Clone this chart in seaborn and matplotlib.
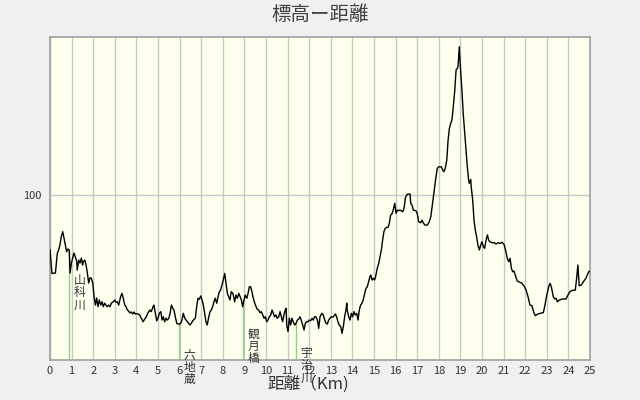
import numpy as np
import pandas as pd
import matplotlib
matplotlib.use("Agg")
import matplotlib.pyplot as plt
import seaborn as sns

# 距離 (km) と 標高 (m)
distance_km = [
    0.00, 0.09, 0.25, 0.34, 0.40, 0.46, 0.52, 0.59, 0.65, 0.71, 0.77, 0.83, 0.89, 0.93, 0.99,
    1.05, 1.11, 1.17, 1.24, 1.26, 1.33, 1.39, 1.45, 1.51, 1.54, 1.61, 1.67, 1.73, 1.79, 1.85,
    1.91, 1.98, 2.04, 2.10, 2.16, 2.22, 2.28, 2.35, 2.41, 2.47, 2.53, 2.59, 2.65, 2.72, 2.78,
    2.84, 2.93, 3.00, 3.06, 3.12, 3.18, 3.27, 3.33, 3.39, 3.46, 3.52, 3.58, 3.64, 3.70, 3.76,
    3.83, 3.89, 3.95, 4.01, 4.07, 4.15, 4.23, 4.31, 4.38, 4.46, 4.54, 4.62, 4.69, 4.77, 4.81,
    4.88, 4.94, 5.00, 5.06, 5.13, 5.19, 5.25, 5.31, 5.37, 5.43, 5.50, 5.56, 5.62, 5.68, 5.74,
    5.80, 5.87, 5.93, 5.99, 6.05, 6.11, 6.17, 6.24, 6.30, 6.36, 6.42, 6.48, 6.54, 6.61, 6.67,
    6.73, 6.79, 6.85, 6.91, 6.98, 7.04, 7.10, 7.16, 7.22, 7.28, 7.35, 7.41, 7.47, 7.53, 7.59,
    7.65, 7.72, 7.78, 7.84, 7.90, 7.96, 8.02, 8.09, 8.15, 8.21, 8.27, 8.33, 8.39, 8.47, 8.55,
    8.61, 8.67, 8.74, 8.80, 8.86, 8.92, 8.98, 9.04, 9.11, 9.17, 9.23, 9.29, 9.35, 9.41, 9.48,
    9.54, 9.60, 9.66, 9.72, 9.78, 9.85, 9.91, 9.97, 10.03, 10.09, 10.15, 10.22, 10.28, 10.34,
    10.40, 10.46, 10.52, 10.59, 10.65, 10.71, 10.77, 10.83, 10.89, 10.93, 10.96, 11.02, 11.08,
    11.14, 11.20, 11.26, 11.33, 11.39, 11.45, 11.51, 11.57, 11.63, 11.70, 11.76, 11.82, 11.88,
    11.94, 12.00, 12.07, 12.13, 12.19, 12.25, 12.31, 12.38, 12.44, 12.50, 12.59, 12.65, 12.72,
    12.78, 12.84, 12.90, 12.96, 13.02, 13.09, 13.15, 13.21, 13.27, 13.33, 13.39, 13.46, 13.52,
    13.58, 13.64, 13.70, 13.74, 13.76, 13.83, 13.89, 13.95, 14.01, 14.07, 14.13, 14.20, 14.26,
    14.32, 14.38, 14.44, 14.50, 14.57, 14.63, 14.69, 14.75, 14.81, 14.85, 14.91, 14.97, 15.03,
    15.09, 15.15, 15.22, 15.28, 15.34, 15.40, 15.46, 15.52, 15.59, 15.65, 15.71, 15.77, 15.83,
    15.89, 15.96, 16.02, 16.08, 16.14, 16.20, 16.26, 16.33, 16.39, 16.45, 16.51, 16.57, 16.67,
    16.70, 16.76, 16.82, 16.94, 17.00, 17.07, 17.16, 17.22, 17.28, 17.35, 17.47, 17.56, 17.63,
    17.69, 17.75, 17.81, 17.87, 17.93, 18.00, 18.12, 18.18, 18.24, 18.30, 18.37, 18.43, 18.49,
    18.55, 18.61, 18.67, 18.74, 18.80, 18.86, 18.89, 18.92, 18.95, 18.98, 19.01, 19.07, 19.13,
    19.20, 19.26, 19.32, 19.38, 19.41, 19.48, 19.50, 19.57, 19.63, 19.69, 19.75, 19.81, 19.88,
    19.94, 20.00, 20.06, 20.12, 20.19, 20.25, 20.31, 20.37, 20.46, 20.56, 20.65, 20.74, 20.83,
    20.93, 21.02, 21.11, 21.17, 21.24, 21.30, 21.36, 21.42, 21.48, 21.54, 21.63, 21.76, 21.85,
    21.94, 22.04, 22.13, 22.22, 22.31, 22.41, 22.47, 22.55, 22.69, 22.84, 22.90, 23.00, 23.09,
    23.15, 23.21, 23.30, 23.37, 23.43, 23.49, 23.58, 23.74, 23.89, 23.98, 24.07, 24.17, 24.32,
    24.38, 24.44, 24.50, 24.60, 24.69, 24.81, 24.94, 25.00,
]
elevation_m = [
    67, 52.5, 52.7, 64.8, 66.7, 69.7, 74.7, 77.8, 73.9, 69.7, 65.6, 67.3, 66.7, 52.7, 58.8,
    61.8, 64.8, 62.6, 59.6, 54.5, 60.6, 58.8, 61.8, 57.6, 59.6, 60.6, 57.6, 52.7, 46.7, 49.7,
    49.7, 46.7, 38.4, 33.3, 37.6, 32.3, 36.4, 33.3, 35.3, 32.3, 34.5, 33.3, 32.3, 33.3, 32.3,
    34.5, 35.3, 36.4, 35.0, 35.3, 33.3, 38.4, 40.4, 37.6, 33.3, 32.3, 30.3, 29.7, 28.5, 29.1,
    27.9, 29.1, 27.9, 28.1, 27.9, 27.3, 25.3, 23.2, 24.7, 26.2, 28.7, 30.3, 29.3, 32.3, 33.3,
    28.3, 23.8, 25.3, 28.3, 29.3, 24.2, 26.2, 23.2, 25.3, 24.2, 25.3, 28.3, 33.3, 31.3, 30.3,
    26.2, 22.2, 21.8, 21.8, 22.2, 24.2, 28.3, 25.3, 24.2, 23.2, 22.2, 21.2, 22.2, 23.8, 24.7,
    25.3, 32.3, 37.4, 36.8, 38.8, 36.4, 33.3, 28.3, 23.2, 21.2, 26.2, 29.3, 30.3, 32.3, 35.3,
    37.4, 34.4, 38.4, 41.4, 42.4, 45.5, 48.5, 52.5, 46.5, 40.4, 38.4, 36.4, 41.4, 40.4, 35.3,
    39.4, 37.4, 40.4, 38.4, 36.4, 32.3, 36.4, 39.4, 37.4, 40.4, 44.4, 44.4, 41.4, 37.4, 34.4,
    32.3, 30.7, 30.3, 28.7, 29.3, 27.3, 25.3, 26.2, 23.2, 24.2, 26.2, 27.3, 30.3, 28.3,
    26.2, 27.3, 25.3, 26.2, 29.3, 26.2, 23.2, 27.3, 30.3, 31.3, 21.2, 17.2, 25.3,
    21.2, 25.3, 23.2, 21.2, 22.2, 24.2, 24.7, 26.2, 24.2, 21.2, 18.2, 22.2, 23.2,
    23.2, 24.2, 23.8, 25.3, 24.2, 26.2, 26.2, 24.2, 19.2, 26.2, 28.3, 27.3, 24.2,
    22.2, 21.8, 24.2, 25.3, 26.2, 25.9, 26.7, 27.9, 26.2, 23.2, 21.2, 20.2, 16.2,
    20.2, 26.2, 30.3, 34.4, 30.3, 26.2, 24.2, 28.3, 26.2, 29.3, 27.3, 28.3, 24.2,
    30.3, 33.3, 34.4, 36.4, 40.4, 43.4, 44.4, 47.4, 50.5, 51.5, 48.5, 49.5, 48.5,
    51.5, 55.6, 58.6, 62.6, 66.7, 72.7, 77.8, 79.8, 80.4, 80.4, 82.8, 87.9, 88.5,
    90.9, 95.0, 88.9, 90.9, 90.5, 90.9, 90.5, 89.9, 91.9, 98.0, 100.0, 100.6, 100.6,
    95.0, 93.9, 90.9, 90.5, 88.9, 83.8, 83.2, 84.8, 83.2, 81.8, 81.8, 83.8, 86.8,
    92.9, 99.0, 105.0, 111.1, 116.2, 117.1, 117.1, 115.2, 114.1, 116.2, 121.2, 133.3, 140.4,
    143.4, 145.5, 153.5, 163.6, 175.8, 176.8, 177.8, 183.9, 189.9, 181.8, 175.8, 163.6, 149.5,
    137.4, 127.3, 117.1, 109.1, 107.1, 109.5, 105.0, 97.0, 84.8, 78.8, 74.7, 69.7, 66.7,
    69.7, 71.7, 68.7, 67.7, 72.7, 75.8, 72.7, 71.7, 71.1, 71.1, 70.3, 71.1, 70.7,
    71.3, 70.1, 65.6, 61.6, 59.6, 61.6, 55.6, 53.5, 53.9, 51.5, 47.9, 47.1, 46.5,
    45.0, 42.4, 38.4, 33.3, 32.9, 28.3, 26.8, 27.7, 28.3, 28.7, 32.3, 39.4, 44.4,
    46.5, 44.4, 38.4, 37.0, 37.4, 35.3, 36.4, 37.0, 37.0, 39.4, 41.4, 42.2, 42.4,
    49.5, 57.6, 45.0, 45.5, 47.4, 49.5, 53.5, 53.9,
]

# 地点
landmark_names = ["山科川", "六地蔵", "観月橋", "宇治川"]
landmark_km = [0.89, 5.99, 8.95, 11.40]

x_ticks = list(range(0, 26))
y_ticks = [100]

sns.set_theme(style="white", rc={
    "figure.facecolor": "#f0f0f0",
    "axes.facecolor": "#ffffee",
    "axes.edgecolor": "#a0a0a0",
})
plt.rcParams["font.family"] = ["Noto Sans CJK JP", "DejaVu Sans"]

df = pd.DataFrame({"距離": distance_km, "標高": elevation_m})

fig = plt.figure(figsize=(6.4, 4.0), dpi=100)
ax = fig.add_axes([50 / 640, 40 / 400, 540 / 640, 323 / 400])

for x in x_ticks:
    ax.axvline(x, color="#c8c8c8", lw=1.0, zorder=0)
for y in y_ticks:
    ax.axhline(y, color="#c8c8c8", lw=1.0, zorder=0)

# 地点の縦線とラベル
for name, km in zip(landmark_names, landmark_km):
    h = np.interp(km, distance_km, elevation_m)
    ax.plot([km, km], [0, h], color="#8fd08f", lw=1.0, zorder=1)
    ax.annotate("\n".join(name), xy=(km, h), xytext=(10, -24), textcoords="offset pixels",
                ha="center", va="top", fontsize=8.5, linespacing=0.95, color="#333333")

sns.lineplot(data=df, x="距離", y="標高", color="black", lw=1.0, ax=ax, zorder=3)

ax.set_xlim(0, 25)
ax.set_ylim(0, 195.8)
ax.set_xticks(x_ticks)
ax.set_yticks(y_ticks)
ax.tick_params(length=0, labelsize=8, labelcolor="#333333")
ax.tick_params(axis="x", pad=4)
ax.tick_params(axis="y", pad=6)
ax.set_xlabel("")
ax.set_ylabel("")
for s in ax.spines.values():
    s.set_linewidth(1.2)

fig.text(0.5, 1 - 14 / 400, "標高ー距離", ha="center", va="center", fontsize=14, color="#404040")
fig.text(308 / 640, 1 - 384 / 400, "距離（Km)", ha="center", va="center", fontsize=12, color="#333333")

fig.savefig("out.png", dpi=100, facecolor=fig.get_facecolor())
plt.close(fig)
